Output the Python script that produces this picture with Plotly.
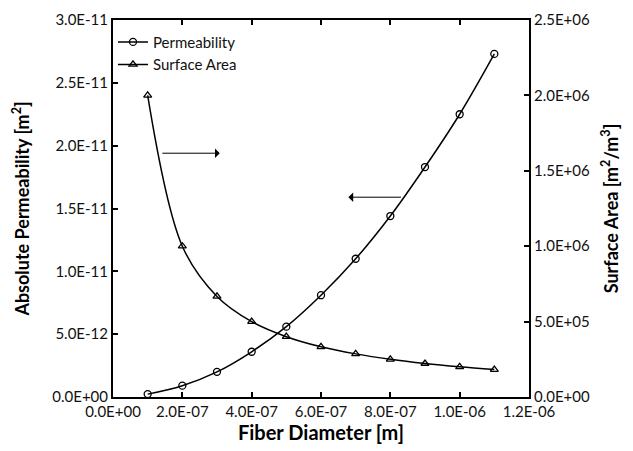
import plotly.graph_objects as go

# fiber diameter [m]
diameter = [1e-7, 2e-7, 3e-7, 4e-7, 5e-7, 6e-7, 7e-7, 8e-7, 9e-7, 1.0e-6, 1.1e-6]
# absolute permeability [m^2]
permeability = [0.23e-12, 0.9e-12, 2.0e-12, 3.6e-12, 5.6e-12, 8.1e-12,
                11.0e-12, 14.4e-12, 18.3e-12, 22.5e-12, 27.3e-12]
# surface area [m^2/m^3]
surface_area = [2.0e6, 1.0e6, 6.67e5, 5.0e5, 4.0e5, 3.33e5,
                2.86e5, 2.5e5, 2.22e5, 2.0e5, 1.82e5]

x_ticks = [0, 2e-7, 4e-7, 6e-7, 8e-7, 1.0e-6, 1.2e-6]
x_labels = ["0.0E+00", "2.0E-07", "4.0E-07", "6.0E-07", "8.0E-07", "1.0E-06", "1.2E-06"]
y_ticks = [0, 5e-12, 1e-11, 1.5e-11, 2e-11, 2.5e-11, 3e-11]
y_labels = ["0.0E+00", "5.0E-12", "1.0E-11", "1.5E-11", "2.0E-11", "2.5E-11", "3.0E-11"]
y2_ticks = [0, 5e5, 1e6, 1.5e6, 2e6, 2.5e6]
y2_labels = ["0.0E+00", "5.0E+05", "1.0E+06", "1.5E+06", "2.0E+06", "2.5E+06"]

FONT = "Lato, Liberation Sans, sans-serif"

fig = go.Figure()

fig.add_trace(go.Scatter(
    x=diameter, y=permeability, name="Permeability",
    mode="lines+markers", line=dict(color="black", width=1.5, shape="spline"),
    marker=dict(symbol="circle-open", size=7, color="black", line=dict(width=1.3)),
))
fig.add_trace(go.Scatter(
    x=diameter, y=surface_area, name="Surface Area", yaxis="y2",
    mode="lines+markers", line=dict(color="black", width=1.5, shape="spline"),
    marker=dict(symbol="triangle-up-open", size=7, color="black", line=dict(width=1.3)),
))

# arrows pointing to the matching axis
fig.add_annotation(x=3.08e-7, y=1.94e-11, ax=1.38e-7, ay=1.94e-11,
                   xref="x", yref="y", axref="x", ayref="y", text="",
                   showarrow=True, arrowhead=1, arrowsize=1.6, arrowwidth=1, arrowcolor="black")
fig.add_annotation(x=6.79e-7, y=1.59e-11, ax=8.35e-7, ay=1.59e-11,
                   xref="x", yref="y", axref="x", ayref="y", text="",
                   showarrow=True, arrowhead=1, arrowsize=1.6, arrowwidth=1, arrowcolor="black")

axis_common = dict(
    showline=True, linecolor="black", linewidth=2, showgrid=False, zeroline=False,
    ticks="inside", ticklen=5, tickwidth=1.5, tickcolor="black", automargin=False,
    tickfont=dict(family=FONT, size=15, color="#111"),
)

# page body has an 8px margin, so the figure is 8px smaller than the window
fig.update_layout(
    width=625, height=443,
    margin=dict(l=105, r=104, t=12, b=54),
    plot_bgcolor="white", paper_bgcolor="white",
    font=dict(family=FONT, color="black"),
    showlegend=True,
    legend=dict(x=0.0, y=0.985, xanchor="left", yanchor="top",
                bgcolor="rgba(0,0,0,0)", font=dict(family=FONT, size=15, color="#111"),
                itemwidth=30),
    xaxis=dict(axis_common, range=[0, 1.2e-6], tickvals=x_ticks, ticktext=x_labels,
               mirror="ticks",
               title=dict(text="<b>Fiber Diameter [m]</b>", font=dict(family=FONT, size=20), standoff=4)),
    yaxis=dict(axis_common, range=[0, 3e-11], tickvals=y_ticks, ticktext=y_labels,
               title=dict(text="<b>Absolute Permeability [m<sup>2</sup>]</b>",
                          font=dict(family=FONT, size=18), standoff=18)),
    yaxis2=dict(axis_common, range=[0, 2.5e6], tickvals=y2_ticks, ticktext=y2_labels,
                overlaying="y", side="right",
                title=dict(text="<b>Surface Area [m<sup>2</sup>/m<sup>3</sup>]</b>",
                           font=dict(family=FONT, size=18), standoff=16)),
)

fig.write_html("out.html")
